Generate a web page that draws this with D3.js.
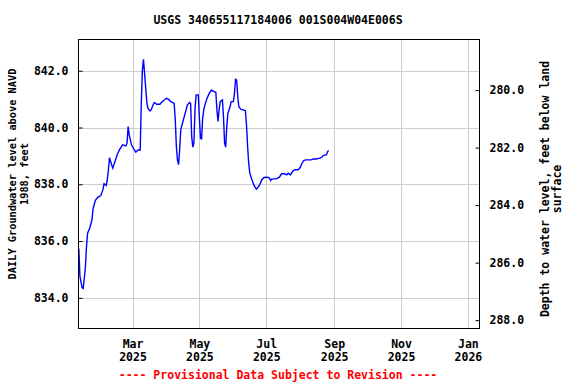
<!DOCTYPE html>
<html>
<head>
<script src="https://d3js.org/d3.v7.min.js"></script>
<style>
  body { margin: 0; background: #fff; }
  text { font-family: "DejaVu Sans Mono", monospace; font-weight: bold; }
</style>
</head>
<body>
<svg id="chart" width="576" height="384"></svg>
<script>
// daily groundwater level, feet above NAVD 1988
var dates = [
  "2025-01-11","2025-01-12","2025-01-14","2025-01-15","2025-01-17","2025-01-18","2025-01-19","2025-01-21",
  "2025-01-23","2025-01-24","2025-01-26","2025-01-28","2025-01-31","2025-02-02","2025-02-03","2025-02-05",
  "2025-02-06","2025-02-07","2025-02-08","2025-02-10","2025-02-11","2025-02-13","2025-02-15","2025-02-17",
  "2025-02-20","2025-02-23","2025-02-24","2025-02-25","2025-02-26","2025-02-28","2025-03-03","2025-03-04",
  "2025-03-06","2025-03-08","2025-03-09","2025-03-10","2025-03-11","2025-03-12","2025-03-14","2025-03-15",
  "2025-03-17","2025-03-18","2025-03-20","2025-03-21","2025-03-23","2025-03-26","2025-03-28","2025-03-30",
  "2025-04-01","2025-04-03","2025-04-05","2025-04-08","2025-04-09","2025-04-10","2025-04-11","2025-04-12",
  "2025-04-13","2025-04-14","2025-04-16","2025-04-18","2025-04-20","2025-04-22","2025-04-23","2025-04-24",
  "2025-04-25","2025-04-26","2025-04-27","2025-04-28","2025-04-30","2025-05-01","2025-05-02","2025-05-03",
  "2025-05-04","2025-05-05","2025-05-06","2025-05-08","2025-05-10","2025-05-12","2025-05-13","2025-05-16",
  "2025-05-17","2025-05-18","2025-05-19","2025-05-20","2025-05-22","2025-05-23","2025-05-24","2025-05-25",
  "2025-05-26","2025-05-27","2025-05-29","2025-05-30","2025-06-01","2025-06-02","2025-06-03","2025-06-04",
  "2025-06-05","2025-06-06","2025-06-08","2025-06-10","2025-06-12","2025-06-13","2025-06-14","2025-06-15",
  "2025-06-16","2025-06-18","2025-06-20","2025-06-22","2025-06-23","2025-06-25","2025-06-27","2025-06-29",
  "2025-07-02","2025-07-04","2025-07-05","2025-07-06","2025-07-08","2025-07-10","2025-07-13","2025-07-15",
  "2025-07-17","2025-07-20","2025-07-21","2025-07-23","2025-07-25","2025-07-27","2025-07-30","2025-08-01",
  "2025-08-02","2025-08-04","2025-08-06","2025-08-09","2025-08-11","2025-08-13","2025-08-16","2025-08-17",
  "2025-08-19","2025-08-21","2025-08-22","2025-08-25","2025-08-26","2025-08-27"
];
var levels = [
  835.74,834.76,834.36,834.33,835.07,835.81,836.28,836.46,
  836.75,837.13,837.43,837.53,837.60,837.81,838.02,837.96,
  838.16,838.51,838.94,838.68,838.57,838.80,839.04,839.21,
  839.39,839.35,839.45,840.03,839.74,839.39,839.19,839.13,
  839.21,839.21,840.85,842.02,842.40,841.91,840.91,840.68,
  840.58,840.62,840.82,840.88,840.82,840.82,840.91,840.97,
  841.03,840.99,840.91,840.85,840.27,839.33,838.86,838.69,
  839.21,839.92,840.21,840.50,840.79,840.88,840.85,839.68,
  839.31,839.45,840.62,841.15,841.15,840.33,839.62,839.60,
  840.33,840.62,840.79,841.03,841.20,841.32,841.29,841.24,
  840.62,840.21,840.62,840.91,840.97,840.38,839.45,839.31,
  840.03,840.50,840.73,840.91,840.91,841.20,841.70,841.67,
  841.09,840.73,840.64,840.62,840.59,840.09,839.33,838.75,
  838.39,838.16,837.95,837.83,837.87,837.98,838.16,838.24,
  838.25,838.22,838.13,838.18,838.19,838.19,838.25,838.37,
  838.37,838.34,838.39,838.33,838.45,838.51,838.51,838.59,
  838.69,838.83,838.86,838.86,838.86,838.89,838.89,838.91,
  838.92,838.96,839.01,839.04,839.15,839.19
];
var leftTicks = [834, 836, 838, 840, 842];
var rightTicks = [280, 282, 284, 286, 288];
var monthTicks = ["2025-03-01","2025-05-01","2025-07-01","2025-09-01","2025-11-01","2026-01-01"];

var svg = d3.select("#chart");
var plotL = 78.5, plotR = 479.5, plotT = 39.5, plotB = 328.5;

var parse = d3.utcParse("%Y-%m-%d");
var data = dates.map(function(d, i) { return { date: parse(d), v: levels[i] }; });

var x = d3.scaleUtc()
  .domain([new Date(Date.UTC(2025, 0, 10, 17)), new Date(Date.UTC(2026, 0, 11, 14))])
  .range([plotL, plotR]);
var y = d3.scaleLinear().domain([832.92, 843.10]).range([plotB, plotT]);
var y2 = d3.scaleLinear().domain([288.29, 278.24]).range([plotB, plotT]);

// grid
var grid = svg.append("g").attr("shape-rendering", "crispEdges");
grid.selectAll("line.v").data(monthTicks).enter().append("line")
  .attr("x1", function(d) { return Math.round(x(parse(d))) + 0.5; })
  .attr("x2", function(d) { return Math.round(x(parse(d))) + 0.5; })
  .attr("y1", plotT).attr("y2", plotB)
  .attr("stroke", "#cccccc").attr("stroke-width", 1);
grid.selectAll("line.h").data(leftTicks).enter().append("line")
  .attr("x1", plotL).attr("x2", plotR)
  .attr("y1", function(d) { return Math.round(y(d)) + 0.5; })
  .attr("y2", function(d) { return Math.round(y(d)) + 0.5; })
  .attr("stroke", "#cccccc").attr("stroke-width", 1);

// data line
var line = d3.line()
  .x(function(d) { return x(d.date); })
  .y(function(d) { return y(d.v); });
svg.append("path").datum(data)
  .attr("d", line)
  .attr("fill", "none")
  .attr("stroke", "#0000ff")
  .attr("stroke-width", 1.4);

// left axis (ticks inward)
var yAxis = d3.axisLeft(y).tickValues(leftTicks).tickSize(-4).tickPadding(10)
  .tickFormat(d3.format(".1f"));
var gy = svg.append("g").attr("transform", "translate(" + plotL + ",0)").call(yAxis);

// right axis (ticks inward)
var yAxis2 = d3.axisRight(y2).tickValues(rightTicks).tickSize(-4).tickPadding(10)
  .tickFormat(d3.format(".1f"));
var gy2 = svg.append("g").attr("transform", "translate(" + plotR + ",0)").call(yAxis2);

[gy, gy2].forEach(function(g) {
  g.select(".domain").remove();
  g.selectAll("text").attr("font-size", "11.5px").attr("font-family", "DejaVu Sans Mono")
    .attr("font-weight", "bold").attr("fill", "#000");
  g.selectAll("line").attr("stroke", "#000");
});

// bottom axis labels
var xAxis = d3.axisBottom(x).tickValues(monthTicks.map(parse)).tickSize(0).tickFormat("");
var gx = svg.append("g").attr("transform", "translate(0," + plotB + ")").call(xAxis);
gx.select(".domain").remove();
gx.selectAll(".tick").each(function(d) {
  var t = d3.select(this).append("text")
    .attr("text-anchor", "middle").attr("font-size", "11.5px").attr("fill", "#000");
  t.append("tspan").attr("x", 0).attr("y", 19).text(d3.utcFormat("%b")(d));
  t.append("tspan").attr("x", 0).attr("y", 32).text(d3.utcFormat("%Y")(d));
});

// frame
svg.append("rect")
  .attr("x", plotL).attr("y", plotT)
  .attr("width", plotR - plotL).attr("height", plotB - plotT)
  .attr("fill", "none").attr("stroke", "#000").attr("stroke-width", 1)
  .attr("shape-rendering", "crispEdges");

// title
svg.append("text").attr("x", 278).attr("y", 24).attr("text-anchor", "middle")
  .attr("font-size", "11.5px").text("USGS 340655117184006 001S004W04E006S");

// axis titles
var lt = svg.append("text").attr("transform", "translate(16,174) rotate(-90)")
  .attr("text-anchor", "middle").attr("font-size", "10.3px");
lt.append("tspan").attr("x", 0).attr("y", 0).text("DAILY Groundwater level above NAVD");
lt.append("tspan").attr("x", 0).attr("y", 12).text("1988, feet");

var rt = svg.append("text").attr("transform", "translate(549,189) rotate(-90)")
  .attr("text-anchor", "middle").attr("font-size", "11.5px");
rt.append("tspan").attr("x", 0).attr("y", 0).text("Depth to water level, feet below land");
rt.append("tspan").attr("x", 0).attr("y", 12).text("surface");

// footer
svg.append("text").attr("x", 278).attr("y", 379).attr("text-anchor", "middle")
  .attr("font-size", "11.5px").attr("fill", "#ff0000")
  .text("---- Provisional Data Subject to Revision ----");
</script>
</body>
</html>
